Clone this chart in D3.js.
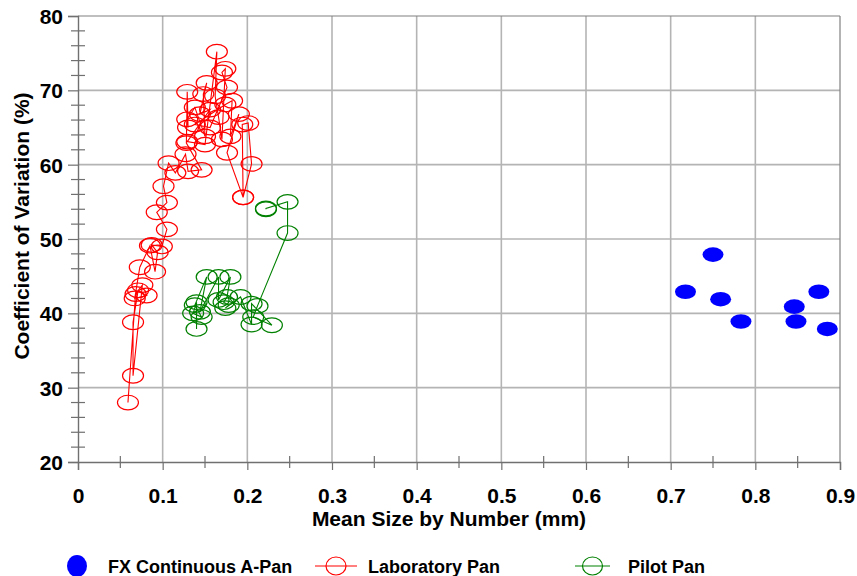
<!DOCTYPE html>
<html><head><meta charset="utf-8">
<script src="https://cdn.jsdelivr.net/npm/d3@7"></script>
<style>
body{margin:0;background:#fff;}
svg text{font-family:"Liberation Sans",Arial,sans-serif;font-weight:bold;fill:#000;}
</style></head>
<body><svg id="c" width="857" height="576"></svg>
<script>
const xTicks=[0,0.1,0.2,0.3,0.4,0.5,0.6,0.7,0.8,0.9];
const yTicks=[20,30,40,50,60,70,80];
const seriesNames=["FX Continuous A-Pan","Laboratory Pan","Pilot Pan"];
const fxX=[0.7175,0.750,0.759,0.783,0.846,0.848,0.875,0.885];
const fxY=[42.9,47.9,41.9,38.9,40.9,38.9,42.9,37.9];
const labX=[0.059,0.068,0.076,0.065,0.065,0.071,0.081,0.067,0.073,0.085,0.091,0.094,0.087,0.099,0.105,0.093,0.105,0.101,0.107,0.115,0.127,0.130,0.146,0.128,0.129,0.130,0.129,0.138,0.150,0.148,0.152,0.144,0.156,0.129,0.150,0.164,0.162,0.166,0.170,0.174,0.170,0.176,0.156,0.138,0.174,0.182,0.180,0.190,0.176,0.195,0.194,0.201,0.205,0.195];
const labY=[28.0,42.6,43.8,31.6,38.8,43.1,42.4,42.0,46.2,49.1,45.6,48.2,49.2,49.0,51.3,53.6,54.9,57.1,60.2,58.9,61.4,59.1,59.3,62.9,69.8,65.0,66.1,67.7,63.8,69.5,71.0,66.8,67.4,63.1,62.7,75.2,69.2,66.4,63.4,72.9,72.4,70.4,65.0,65.4,68.1,68.6,63.8,66.8,61.6,55.6,65.4,65.6,60.1,55.6];
const pilX=[0.140,0.140,0.136,0.146,0.138,0.152,0.144,0.166,0.166,0.180,0.176,0.172,0.178,0.174,0.192,0.205,0.205,0.229,0.207,0.212,0.2475,0.2475,0.222,0.222];
const pilY=[37.9,41.5,40.0,39.5,41.1,44.9,40.2,44.9,41.8,44.9,42.2,41.5,41.1,40.7,42.2,38.5,41.3,38.4,39.5,41.0,50.8,55.0,54.1,54.0];

const svg=d3.select("#c");
const L=78,R=840,T=16,B=462;
const x=d3.scaleLinear().domain([0,0.9]).range([L,R]);
const y=d3.scaleLinear().domain([20,80]).range([B,T]);

// grid
const g=svg.append("g");
g.selectAll(".gx").data(xTicks.slice(1,-1)).enter().append("line")
 .attr("x1",d=>x(d)).attr("x2",d=>x(d)).attr("y1",T).attr("y2",B)
 .attr("stroke","#b4b4b4").attr("stroke-width",1.6);
g.selectAll(".gy").data(yTicks.slice(1,-1)).enter().append("line")
 .attr("y1",d=>y(d)).attr("y2",d=>y(d)).attr("x1",L).attr("x2",R)
 .attr("stroke","#b4b4b4").attr("stroke-width",1.6);
// frame top/right
svg.append("line").attr("x1",L).attr("x2",R).attr("y1",T).attr("y2",T).attr("stroke","#808080").attr("stroke-width",1.2);
svg.append("line").attr("x1",R).attr("x2",R).attr("y1",T).attr("y2",B).attr("stroke","#808080").attr("stroke-width",1.2);

// axes
const xAxis=d3.axisBottom(x).tickValues(xTicks).tickFormat(d=>d===0?"0":d3.format(".1f")(d)).tickSize(8).tickPadding(18);
const xa=svg.append("g").attr("transform",`translate(0,${B})`).call(xAxis);
const yAxis=d3.axisLeft(y).tickValues(yTicks).tickSize(10).tickPadding(5);
const ya=svg.append("g").attr("transform",`translate(${L},0)`).call(yAxis);
[xa,ya].forEach(a=>{a.select(".domain").attr("stroke","#707070").attr("stroke-width",1.4);
 a.selectAll(".tick line").attr("stroke","#707070").attr("stroke-width",1.2);
 a.selectAll("text").style("font-size","21px").attr("font-family",null).attr("fill","#000");});
ya.selectAll("text").attr("dy","0.36em");
// minor ticks
const xMinor=d3.range(0.05,0.9,0.1);
svg.append("g").selectAll("line").data(xMinor).enter().append("line")
 .attr("x1",d=>x(d)).attr("x2",d=>x(d)).attr("y1",B-6).attr("y2",B+6).attr("stroke","#707070").attr("stroke-width",1.2);
const yMinor=d3.range(20,80.1,2).filter(v=>v%10!==0);
svg.append("g").selectAll("line").data(yMinor).enter().append("line")
 .attr("y1",d=>y(d)).attr("y2",d=>y(d)).attr("x1",L-7).attr("x2",L+7).attr("stroke","#707070").attr("stroke-width",1.2);

// titles
svg.append("text").attr("x",(L+R)/2-10).attr("y",526).attr("text-anchor","middle").style("font-size","21px").text("Mean Size by Number (mm)");
svg.append("text").attr("transform","translate(29,226) rotate(-90)").attr("text-anchor","middle").style("font-size","21px").text("Coefficient of Variation (%)");

// series
const lab=labX.map((v,i)=>[v,labY[i]]);
const pil=pilX.map((v,i)=>[v,pilY[i]]);
const fx=fxX.map((v,i)=>[v,fxY[i]]);
const line=d3.line().x(d=>x(d[0])).y(d=>y(d[1]));
const RX=10.5,RY=7.3;
function drawSeries(data,col){
 svg.append("path").datum(data).attr("d",line).attr("fill","none").attr("stroke",col).attr("stroke-width",1.1);
 svg.append("g").selectAll("ellipse").data(data).enter().append("ellipse")
  .attr("cx",d=>x(d[0])).attr("cy",d=>y(d[1])).attr("rx",RX).attr("ry",RY)
  .attr("fill","none").attr("stroke",col).attr("stroke-width",1.2);
}
drawSeries(lab,"#ff0000");
drawSeries(pil,"#008000");
svg.append("g").selectAll("ellipse").data(fx).enter().append("ellipse")
 .attr("cx",d=>x(d[0])).attr("cy",d=>y(d[1])).attr("rx",RX).attr("ry",RY).attr("fill","#0000ff");

// legend
const LY=566;
const lg=svg.append("g");
lg.append("ellipse").attr("cx",77).attr("cy",LY).attr("rx",10).attr("ry",11).attr("fill","#0000ff");
lg.append("text").attr("x",108).attr("y",LY+6.5).style("font-size","18px").text(seriesNames[0]);
[[315,357,seriesNames[1],368,"#ff0000"],[575,610,seriesNames[2],628,"#008000"]].forEach(([a,b,t,tx,c])=>{
 lg.append("line").attr("x1",a).attr("x2",b).attr("y1",LY).attr("y2",LY).attr("stroke",c).attr("stroke-width",1.1);
 lg.append("ellipse").attr("cx",(a+b)/2).attr("cy",LY).attr("rx",10).attr("ry",9).attr("fill","none").attr("stroke",c).attr("stroke-width",1.2);
 lg.append("text").attr("x",tx).attr("y",LY+6.5).style("font-size","18px").text(t);
});
</script></body></html>
